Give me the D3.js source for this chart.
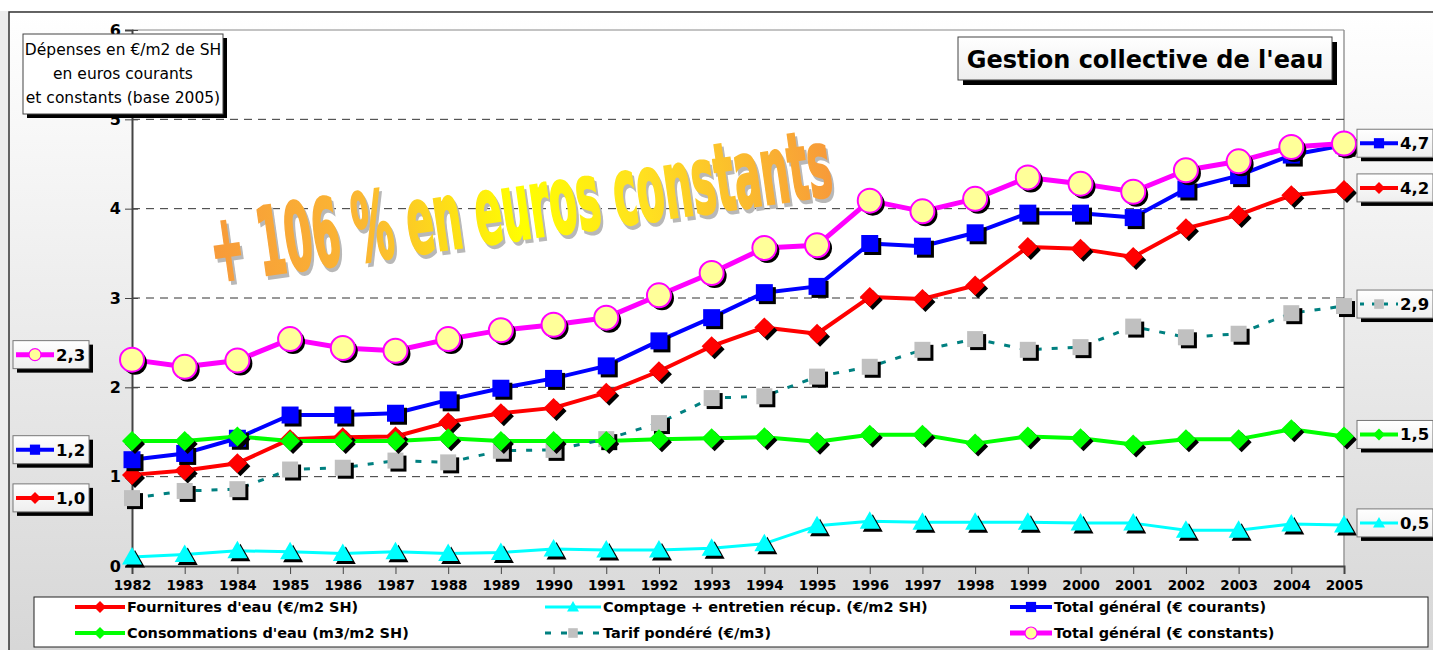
<!DOCTYPE html>
<html><head><meta charset="utf-8">
<script src="https://cdn.jsdelivr.net/npm/d3@7"></script>
<style>body{margin:0;background:#fff}svg{display:block}</style>
</head><body>
<script>
const years = ["1982","1983","1984","1985","1986","1987","1988","1989","1990","1991","1992","1993","1994","1995","1996","1997","1998","1999","2000","2001","2002","2003","2004","2005"];
const fournitures = [1.02,1.07,1.15,1.42,1.44,1.45,1.61,1.71,1.77,1.94,2.18,2.46,2.67,2.60,3.01,2.99,3.14,3.57,3.55,3.46,3.78,3.93,4.15,4.21];
const consommations = [1.40,1.40,1.45,1.40,1.40,1.40,1.43,1.40,1.40,1.40,1.42,1.43,1.44,1.39,1.47,1.47,1.37,1.45,1.43,1.36,1.42,1.42,1.53,1.45];
const comptage = [0.10,0.13,0.17,0.16,0.14,0.16,0.14,0.15,0.19,0.18,0.18,0.20,0.25,0.45,0.50,0.49,0.49,0.49,0.48,0.48,0.40,0.40,0.47,0.46];
const tarif = [0.76,0.84,0.86,1.08,1.10,1.18,1.16,1.29,1.30,1.42,1.60,1.88,1.90,2.12,2.23,2.42,2.54,2.42,2.45,2.68,2.56,2.60,2.83,2.91];
const totalCourants = [1.19,1.26,1.43,1.69,1.69,1.71,1.86,1.99,2.10,2.24,2.52,2.78,3.06,3.13,3.61,3.58,3.73,3.95,3.95,3.90,4.22,4.37,4.60,4.71];
const totalConstants = [2.31,2.23,2.30,2.54,2.44,2.41,2.54,2.64,2.70,2.78,3.03,3.28,3.56,3.59,4.09,3.97,4.11,4.35,4.28,4.19,4.43,4.53,4.69,4.73];
const yTicks = [0,1,2,3,4,5,6];
const seriesNames = ["Fournitures d'eau (€/m2 SH)","Consommations d'eau (m3/m2 SH)","Comptage + entretien récup. (€/m2 SH)","Tarif pondéré (€/m3)","Total général (€ courants)","Total général (€ constants)"];
const title = "Gestion collective de l'eau";
const noteLines = ["Dépenses en €/m2 de SH","en euros courants","et constants (base 2005)"];
const watermark = "+ 106 % en euros constants";
const rightLabels = [["totalCourants","4,7"],["fournitures","4,2"],["tarif","2,9"],["consommations","1,5"],["comptage","0,5"]];
const leftLabels = [["totalConstants","2,3",-5],["totalCourants","1,2",-10],["fournitures","1,0",23]];

const series = [
  {key:"fournitures", name:seriesNames[0], values:fournitures, color:"#ff0000", width:4, marker:"diamond", mcolor:"#ff0000", size:10},
  {key:"consommations", name:seriesNames[1], values:consommations, color:"#00ff00", width:4, marker:"diamond", mcolor:"#00ff00", size:10},
  {key:"comptage", name:seriesNames[2], values:comptage, color:"#00ffff", width:3, marker:"triangle", mcolor:"#00ffff", size:10},
  {key:"tarif", name:seriesNames[3], values:tarif, color:"#008080", width:3, dash:"6,10", marker:"square", mcolor:"#c0c0c0", size:8},
  {key:"totalCourants", name:seriesNames[4], values:totalCourants, color:"#0000ff", width:4, marker:"square", mcolor:"#0000ff", size:8.5},
  {key:"totalConstants", name:seriesNames[5], values:totalConstants, color:"#ff00ff", width:5, marker:"circle", mcolor:"#ffff99", size:12}
];
const byKey = Object.fromEntries(series.map(s=>[s.key,s]));

const W=1433,H=650;
const svg = d3.select("body").append("svg").attr("width",W).attr("height",H);
const defs = svg.append("defs");
const bg = defs.append("linearGradient").attr("id","bg").attr("x1",0).attr("y1",0).attr("x2",0).attr("y2",1);
bg.append("stop").attr("offset","0%").attr("stop-color","#ffffff");
bg.append("stop").attr("offset","100%").attr("stop-color","#d6d6d6");
const boxg = defs.append("linearGradient").attr("id","boxg").attr("x1",0).attr("y1",0).attr("x2",0).attr("y2",1);
boxg.append("stop").attr("offset","0%").attr("stop-color","#ffffff");
boxg.append("stop").attr("offset","100%").attr("stop-color","#eeeeee");

svg.append("rect").attr("x",0).attr("y",0).attr("width",W).attr("height",H).attr("fill","#ececec");
svg.append("rect").attr("x",0).attr("y",0).attr("width",W).attr("height",11).attr("fill","#ffffff");
svg.append("rect").attr("x",9).attr("y",12).attr("width",W).attr("height",H).attr("fill","url(#bg)").attr("stroke","#333").attr("stroke-width",1.5);

const x = d3.scalePoint().domain(years).range([132,1344]);
const y = d3.scaleLinear().domain([0,6]).range([566,30]);
const F = "'DejaVu Sans', Verdana, sans-serif";

// plot area
svg.append("rect").attr("x",132).attr("y",y(6)).attr("width",1344-132).attr("height",y(0)-y(6)).attr("fill","#fff");
svg.append("line").attr("x1",1344).attr("x2",1344).attr("y1",y(6)).attr("y2",y(0)).attr("stroke","#999").attr("stroke-width",1.5);
// gridlines
svg.append("g").selectAll("line").data(yTicks.filter(d=>d>0)).join("line")
  .attr("x1",132).attr("x2",1344).attr("y1",d=>y(d)).attr("y2",d=>y(d))
  .attr("stroke",d=>d===6?"#888":"#333").attr("stroke-width",1).attr("stroke-dasharray",d=>d===6?null:"8,6");

// axes
const yAxis = svg.append("g").attr("transform","translate(132,0)")
  .call(d3.axisLeft(y).tickValues(yTicks).tickFormat(d3.format("d")).tickSize(7).tickPadding(6));
yAxis.select(".domain").attr("stroke","#444").attr("stroke-width",2);
yAxis.selectAll(".tick line").attr("stroke","#444").attr("x2",-7).attr("x1",6);
yAxis.selectAll("text").attr("font-family",F).attr("font-weight","bold").attr("font-size",16).attr("fill","#000").attr("x",-11);
const xAxis = svg.append("g").attr("transform","translate(0,566)")
  .call(d3.axisBottom(x).tickSize(8).tickPadding(6));
xAxis.select(".domain").attr("stroke","#444").attr("stroke-width",2);
xAxis.selectAll(".tick line").attr("stroke","#444");
xAxis.selectAll("text").attr("font-family",F).attr("font-weight","bold").attr("font-size",13.5).attr("fill","#000");

// watermark (horizontally condensed via scale)
const WF = "'Liberation Sans Narrow','DejaVu Sans Condensed','Liberation Sans',sans-serif";
const wmG = svg.append("g").attr("transform","translate(215,282) rotate(-8)");
const inner = wmG.append("g");
const shadowT = inner.append("text").attr("x",4).attr("y",4).text(watermark)
  .attr("font-family",WF).attr("font-weight","bold").attr("font-size",94)
  .attr("fill","#b8b8b8").attr("stroke","#b8b8b8").attr("stroke-width",2.5);
const mainT = inner.append("text").attr("x",0).attr("y",0).text(watermark)
  .attr("font-family",WF).attr("font-weight","bold").attr("font-size",94)
  .attr("stroke-width",2.5);
const natW = mainT.node().getComputedTextLength() || 900;
const sx = 626/natW;
inner.attr("transform",`scale(${sx},1)`);
const wm = defs.append("linearGradient").attr("id","wm").attr("gradientUnits","userSpaceOnUse").attr("x1",0).attr("y1",0).attr("x2",natW).attr("y2",0);
wm.append("stop").attr("offset","0%").attr("stop-color","#f79a3a");
wm.append("stop").attr("offset","25%").attr("stop-color","#fbb832");
wm.append("stop").attr("offset","50%").attr("stop-color","#ffff00");
wm.append("stop").attr("offset","70%").attr("stop-color","#ffe020");
wm.append("stop").attr("offset","100%").attr("stop-color","#f79a3a");
mainT.attr("fill","url(#wm)").attr("stroke","url(#wm)");

// marker path
function markerPath(type, s){
  if(type==="diamond") return `M0,${-s}L${s},0L0,${s}L${-s},0Z`;
  if(type==="square") return `M${-s},${-s}H${s}V${s}H${-s}Z`;
  if(type==="triangle") return `M0,${-s}L${s},${s*0.75}L${-s},${s*0.75}Z`;
  return null;
}
function drawMarker(g, s, cx, cy, scale, shadow){
  const sz = s.size*scale;
  if(s.marker==="circle"){
    const c = g.append("circle").attr("cx",cx).attr("cy",cy).attr("r",sz);
    if(shadow) c.attr("fill","#000"); else c.attr("fill",s.mcolor).attr("stroke",s.color).attr("stroke-width",2*Math.max(scale,0.6));
  } else {
    const p = g.append("path").attr("d",markerPath(s.marker,sz)).attr("transform",`translate(${cx},${cy})`);
    p.attr("fill",shadow?"#000":s.mcolor);
  }
}

// lines
const line = d3.line().x((d,i)=>x(years[i])).y(d=>y(d));
const linesG = svg.append("g");
series.forEach(s=>{
  linesG.append("path").attr("d",line(s.values)).attr("fill","none").attr("stroke",s.color)
    .attr("stroke-width",s.width).attr("stroke-dasharray",s.dash||null).attr("stroke-linejoin","round");
});
// markers
const markOrder = ["fournitures","comptage","tarif","totalCourants","consommations","totalConstants"];
const mG = svg.append("g");
markOrder.forEach(k=>{
  const s = byKey[k];
  const g = mG.append("g");
  s.values.forEach((v,i)=>drawMarker(g,s,x(years[i])+3,y(v)+3,1,true));
  s.values.forEach((v,i)=>drawMarker(g,s,x(years[i]),y(v),1,false));
});

// label boxes
function labelBox(bx, cy, s, txt){
  const g = svg.append("g");
  const h=28, w=76, top=cy-h/2;
  g.append("rect").attr("x",bx+4).attr("y",top+4).attr("width",w).attr("height",h).attr("fill","#000");
  g.append("rect").attr("x",bx).attr("y",top).attr("width",w).attr("height",h).attr("fill","url(#boxg)").attr("stroke","#777").attr("stroke-width",1);
  g.append("line").attr("x1",bx+3).attr("x2",bx+41).attr("y1",cy).attr("y2",cy).attr("stroke",s.color).attr("stroke-width",s.width)
    .attr("stroke-dasharray",s.dash?"4,8":null);
  drawMarker(g,s,bx+22,cy,s.marker==="circle"?0.5:0.6,false);
  g.append("text").attr("x",bx+43).attr("y",cy).attr("dy","0.36em").text(txt)
    .attr("font-family",F).attr("font-weight","bold").attr("font-size",16.5).attr("fill","#000");
}
rightLabels.forEach(([k,t])=>{ const s=byKey[k]; labelBox(1357, y(s.values[s.values.length-1])-2, s, t); });
leftLabels.forEach(([k,t,off])=>{ const s=byKey[k]; labelBox(13, y(s.values[0])+off, s, t); });

// title box
const tg = svg.append("g");
tg.append("rect").attr("x",963).attr("y",42).attr("width",374).attr("height",43).attr("fill","#000");
tg.append("rect").attr("x",958).attr("y",37).attr("width",374).attr("height",43).attr("fill","url(#boxg)").attr("stroke","#444");
tg.append("text").attr("x",1145).attr("y",59).attr("dy","0.36em").attr("text-anchor","middle").text(title)
  .attr("font-family",F).attr("font-weight","bold").attr("font-size",24).attr("fill","#000");

// note box
const ng = svg.append("g");
ng.append("rect").attr("x",27).attr("y",38).attr("width",200).attr("height",80).attr("fill","#000");
ng.append("rect").attr("x",23).attr("y",34).attr("width",200).attr("height",80).attr("fill","#fff").attr("stroke","#444");
ng.selectAll("text").data(noteLines).join("text").attr("x",123).attr("y",(d,i)=>49+i*24).attr("dy","0.36em")
  .attr("text-anchor","middle").text(d=>d).attr("font-family",F).attr("font-size",15.5).attr("fill","#000");

// legend
const lg = svg.append("g");
lg.append("rect").attr("x",34).attr("y",597).attr("width",1394).attr("height",50).attr("fill","#fff").attr("stroke","#222");
const legendPos = [[75,607,50],[75,633,50],[545,607,56],[545,633,56],[1010,607,42],[1010,633,42]];
series.forEach((s,i)=>{
  const [lx,ly,lw] = legendPos[i];
  const g = lg.append("g");
  g.append("line").attr("x1",lx).attr("x2",lx+lw).attr("y1",ly).attr("y2",ly).attr("stroke",s.color).attr("stroke-width",s.width)
    .attr("stroke-dasharray",s.dash?"6,10":null);
  drawMarker(g,s,lx+lw/2,ly,s.marker==="circle"?0.5:0.6,false);
  g.append("text").attr("x",lx+lw+2).attr("y",ly).attr("dy","0.36em").text(s.name)
    .attr("font-family",F).attr("font-weight","bold").attr("font-size",14.5).attr("fill","#000");
});
</script>
</body></html>
